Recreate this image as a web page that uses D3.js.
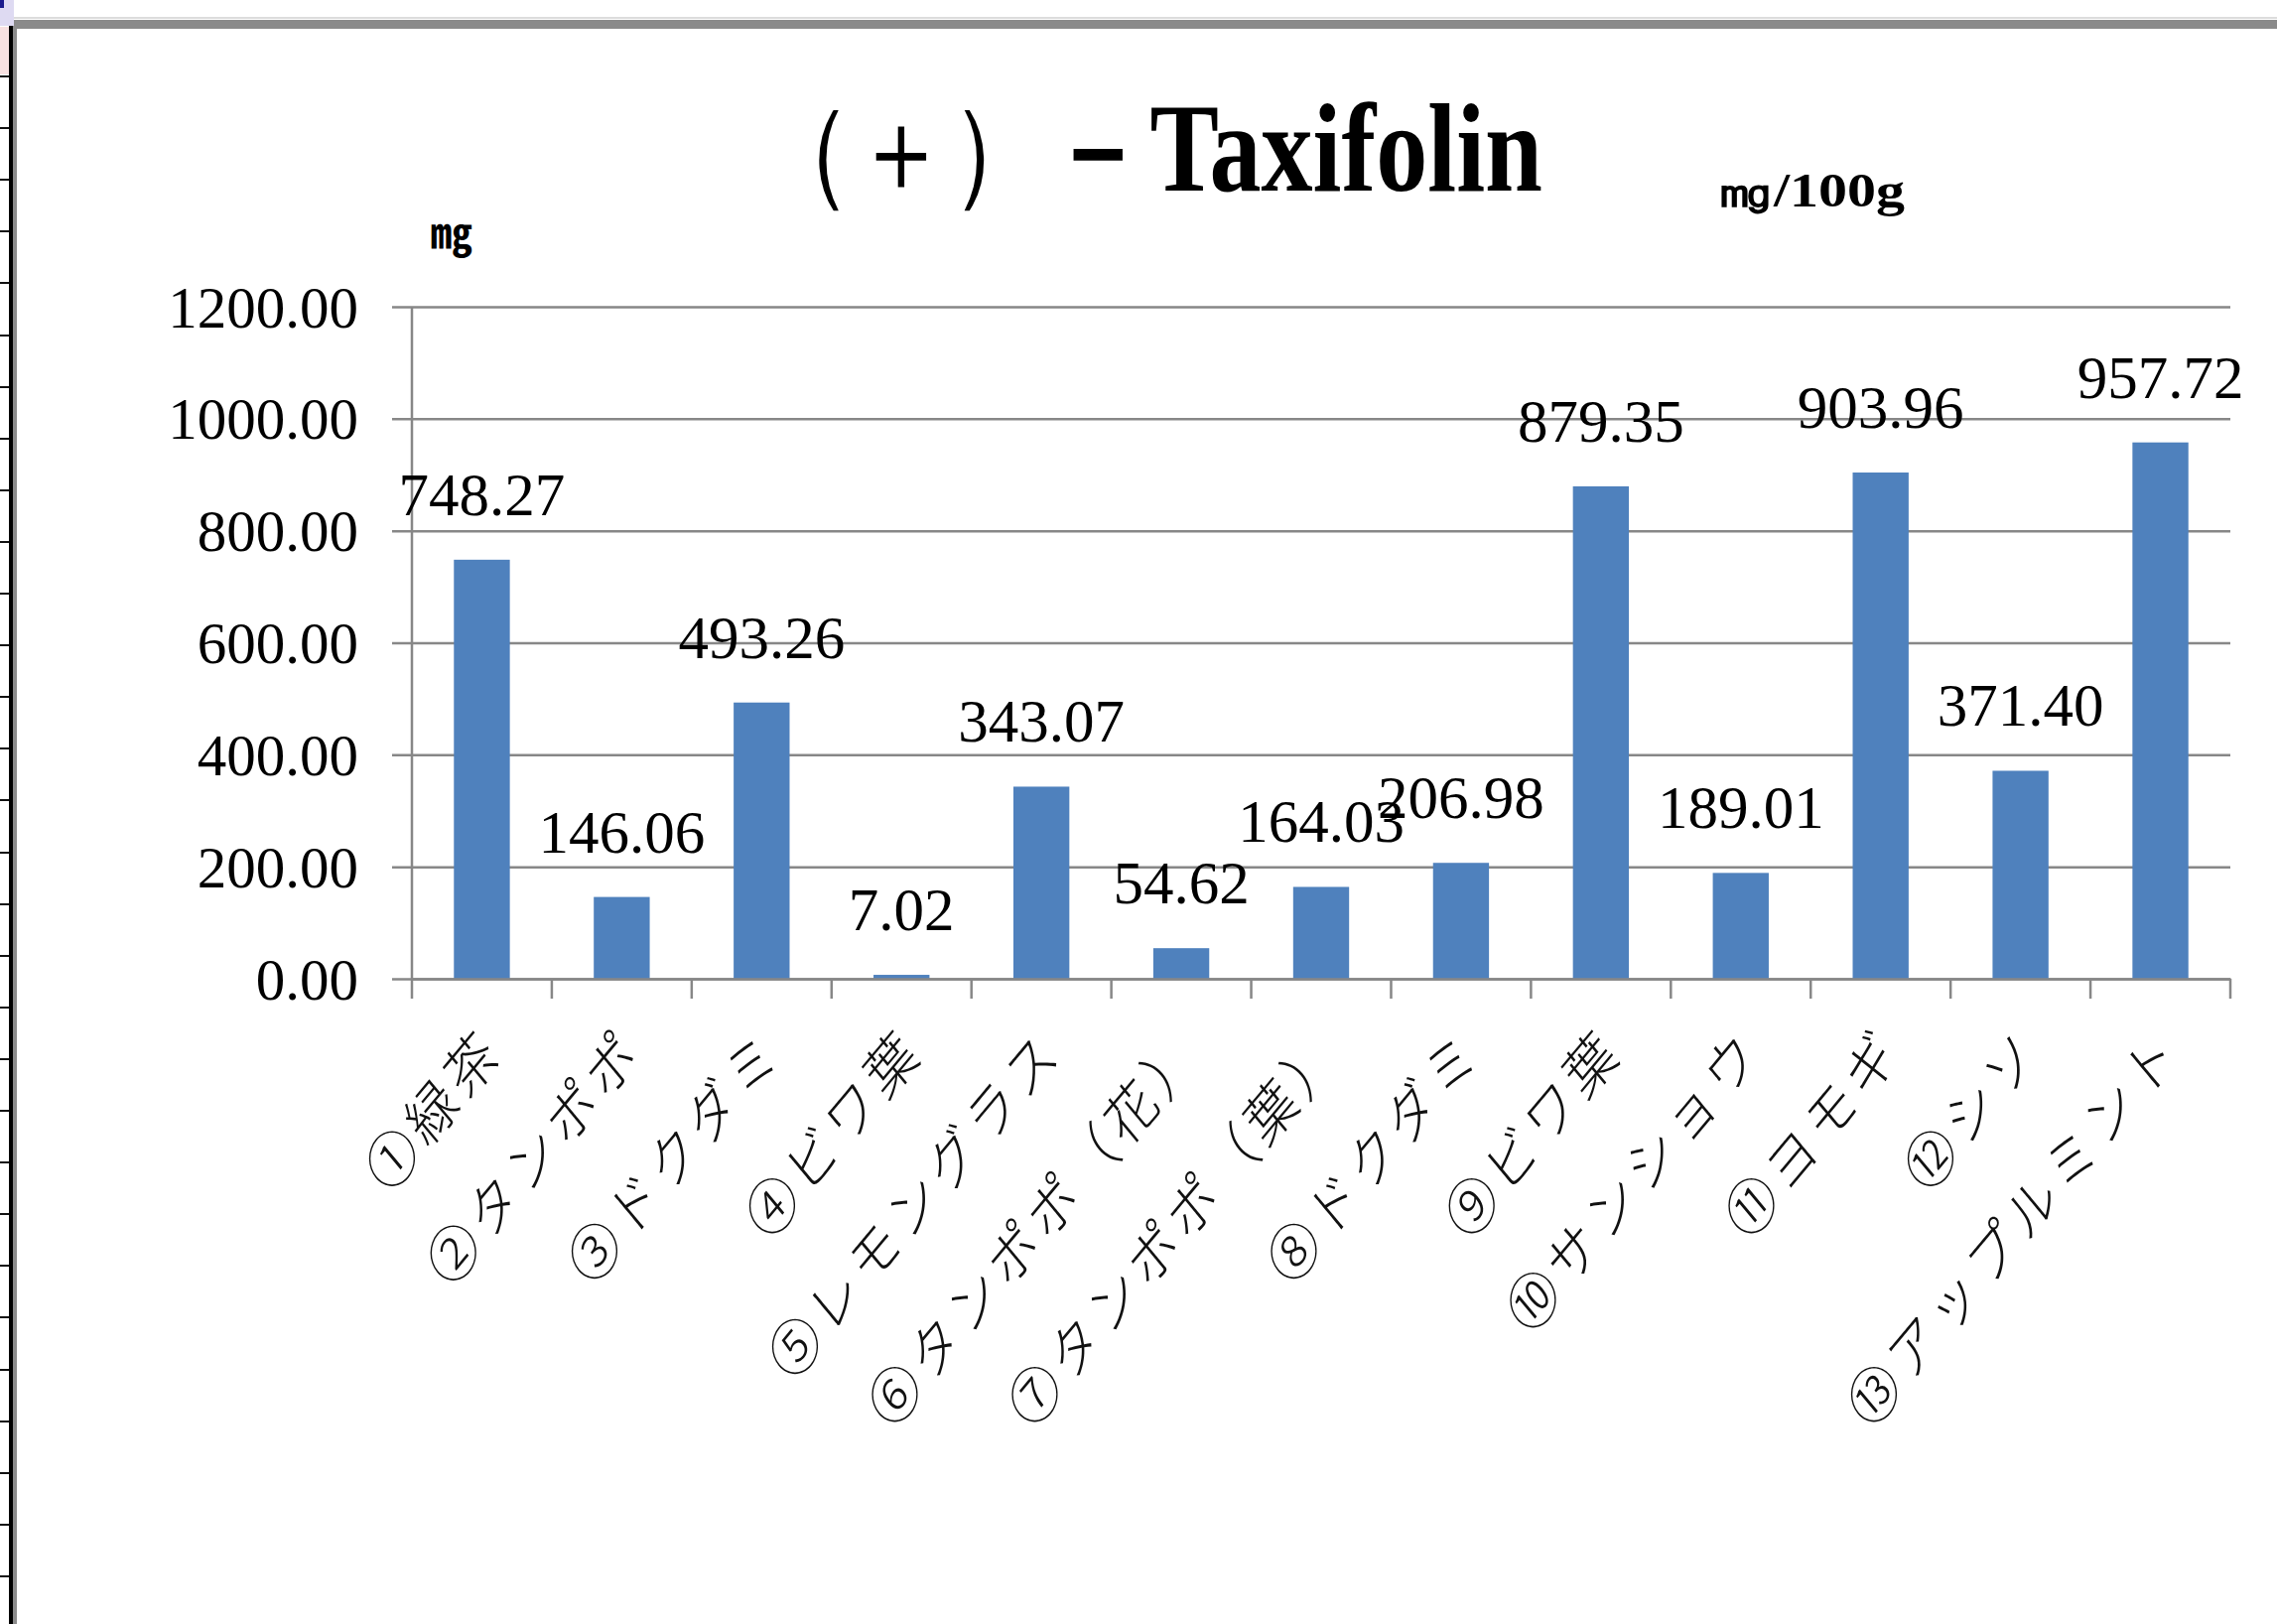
<!DOCTYPE html>
<html>
<head>
<meta charset="utf-8">
<script src="https://cdn.jsdelivr.net/npm/d3@7"></script>
<style>
  html, body { margin: 0; padding: 0; background: #fff; }
  svg { display: block; }
</style>
</head>
<body>
<div id="chart"></div>
<script>
const width = 2294;
const height = 1636;

// data
const categories = [
  '①緑茶', '②タンポポ', '③ドクダミ', '④ビワ葉', '⑤レモングラス',
  '⑥タンポポ（花）', '⑦タンポポ（葉）', '⑧ドクダミ', '⑨ビワ葉',
  '⑩サンショウ', '⑪ヨモギ', '⑫シソ', '⑬アップルミント'
];
const values = [748.27, 146.06, 493.26, 7.02, 343.07, 54.62, 164.03, 206.98, 879.35, 189.01, 903.96, 371.40, 957.72];
const yTicks = [0, 200, 400, 600, 800, 1000, 1200];
const titleParts = ['（＋）', '－Taxifolin'];
const yUnit = '㎎';
const unitText = '㎎/100g';

const plotLeft = 415;
const plotRight = 2247;
const plotTop = 309;
const plotBottom = 986;
const tickLen = 20;
const gridColor = '#878787';
const barColor = '#4f81bd';
const serif = '"Liberation Serif", "DejaVu Serif", serif';
const cjk = '"Noto Sans CJK JP", "Noto Sans", sans-serif';

const svg = d3.select('#chart').append('svg')
    .attr('width', width)
    .attr('height', height);

svg.append('rect').attr('width', width).attr('height', height).attr('fill', '#fff');

// window frame bits round the chart (spreadsheet edges)
const frame = svg.append('g').attr('class', 'frame');
frame.append('rect').attr('x', 0).attr('y', 0).attr('width', 14).attr('height', 26).attr('fill', '#dedaf2');
frame.append('rect').attr('x', 0).attr('y', 0).attr('width', 4).attr('height', 8).attr('fill', '#1a1a8c');
frame.append('rect').attr('x', 0).attr('y', 27).attr('width', 9).attr('height', 48).attr('fill', '#f8e1e1');
frame.append('rect').attr('x', 14).attr('y', 17).attr('width', width - 14).attr('height', 2).attr('fill', '#dcdcdc');
frame.append('rect').attr('x', 14).attr('y', 20).attr('width', width - 14).attr('height', 9).attr('fill', '#8a8a8a');
frame.append('rect').attr('x', 9).attr('y', 26).attr('width', 4).attr('height', height - 26).attr('fill', '#000');
frame.append('rect').attr('x', 13).attr('y', 26).attr('width', 4).attr('height', height - 26).attr('fill', '#8c8c8c');
const rulerRows = d3.range(77, height, 52.1);
frame.selectAll('.ruler-tick')
    .data(rulerRows)
    .enter()
    .append('rect')
    .attr('class', 'ruler-tick')
    .attr('x', 0)
    .attr('y', d => Math.round(d) - 1)
    .attr('width', 9)
    .attr('height', 2)
    .attr('fill', '#111');

// scales
const x = d3.scaleBand()
    .domain(categories)
    .range([plotLeft, plotRight])
    .padding(0);

const y = d3.scaleLinear()
    .domain([0, 1200])
    .range([plotBottom, plotTop]);

// gridlines + y ticks
const yAxis = d3.axisLeft(y)
    .tickValues(yTicks)
    .tickSize(-(plotRight - plotLeft))
    .tickPadding(0)
    .tickFormat(d3.format('.2f'));

const yAxisGroup = svg.append('g')
    .attr('class', 'y-axis')
    .attr('transform', `translate(${plotLeft},0)`)
    .call(yAxis);
yAxisGroup.select('.domain').remove();
yAxisGroup.selectAll('.tick line')
    .attr('x1', -tickLen)
    .attr('stroke', gridColor)
    .attr('stroke-width', 2.5);
yAxisGroup.selectAll('.tick text')
    .attr('x', -54)
    .attr('dy', '0.34em')
    .attr('fill', '#000')
    .style('font-family', serif)
    .style('font-size', '59px');

// bars
const barWidth = x.bandwidth() * 0.4;
svg.append('g')
    .attr('class', 'bars')
    .selectAll('rect')
    .data(values)
    .enter()
    .append('rect')
    .attr('x', (d, i) => x(categories[i]) + (x.bandwidth() - barWidth) / 2)
    .attr('y', d => y(d))
    .attr('width', barWidth)
    .attr('height', d => y(0) - y(d))
    .attr('fill', barColor);

// y axis line
svg.append('line')
    .attr('x1', plotLeft).attr('x2', plotLeft)
    .attr('y1', plotTop).attr('y2', plotBottom)
    .attr('stroke', gridColor)
    .attr('stroke-width', 2.5);

// x axis: line + ticks at category boundaries
const xAxis = d3.axisBottom(x)
    .tickSize(0)
    .tickFormat('');
const xAxisGroup = svg.append('g')
    .attr('class', 'x-axis')
    .attr('transform', `translate(0,${plotBottom})`)
    .call(xAxis);
xAxisGroup.select('.domain')
    .attr('stroke', gridColor)
    .attr('stroke-width', 2.5);
xAxisGroup.selectAll('.tick').remove();

const boundaries = categories.map(c => x(c)).concat([plotRight]);
xAxisGroup.selectAll('.band-tick')
    .data(boundaries)
    .enter()
    .append('line')
    .attr('class', 'band-tick')
    .attr('x1', d => d).attr('x2', d => d)
    .attr('y1', 0).attr('y2', tickLen)
    .attr('stroke', gridColor)
    .attr('stroke-width', 2.5);

// category labels, rotated (the source picture is stretched a bit vertically)
svg.append('g')
    .attr('class', 'x-labels')
    .selectAll('text')
    .data(categories)
    .enter()
    .append('text')
    .attr('transform', d => `translate(${x(d) + x.bandwidth() / 2 + 24},${plotBottom + 76}) scale(1,1.2) rotate(-45)`)
    .attr('text-anchor', 'end')
    .style('font-family', cjk)
    .style('font-size', '50px')
    .style('font-weight', 300)
    .style('letter-spacing', '6px')
    .attr('fill', '#111')
    .text(d => d);

// data labels
svg.append('g')
    .attr('class', 'data-labels')
    .selectAll('text')
    .data(values)
    .enter()
    .append('text')
    .attr('x', (d, i) => x(categories[i]) + x.bandwidth() / 2)
    .attr('y', d => y(d) - 45)
    .attr('text-anchor', 'middle')
    .style('font-family', serif)
    .style('font-size', '61px')
    .attr('fill', '#000')
    .text(d => d3.format('.2f')(d));

// title and units
const title = svg.append('text')
    .attr('x', 762)
    .attr('y', 192)
    .attr('textLength', 792)
    .attr('lengthAdjust', 'spacingAndGlyphs')
    .style('font-family', serif)
    .style('font-size', '126px')
    .attr('fill', '#000');
title.append('tspan')
    .style('font-weight', 'normal')
    .style('font-size', '118px')
    .text(titleParts[0]);
title.append('tspan')
    .style('font-weight', 'bold')
    .text(titleParts[1]);

svg.append('text')
    .attr('x', 455)
    .attr('y', 250)
    .attr('text-anchor', 'middle')
    .style('font-family', cjk)
    .style('font-size', '42px')
    .style('font-weight', 'bold')
    .attr('fill', '#000')
    .text(yUnit);

svg.append('text')
    .attr('x', 1729)
    .attr('y', 208)
    .attr('textLength', 190)
    .attr('lengthAdjust', 'spacingAndGlyphs')
    .style('font-family', serif)
    .style('font-size', '48px')
    .style('font-weight', 'bold')
    .attr('fill', '#000')
    .text(unitText);
</script>
</body>
</html>
